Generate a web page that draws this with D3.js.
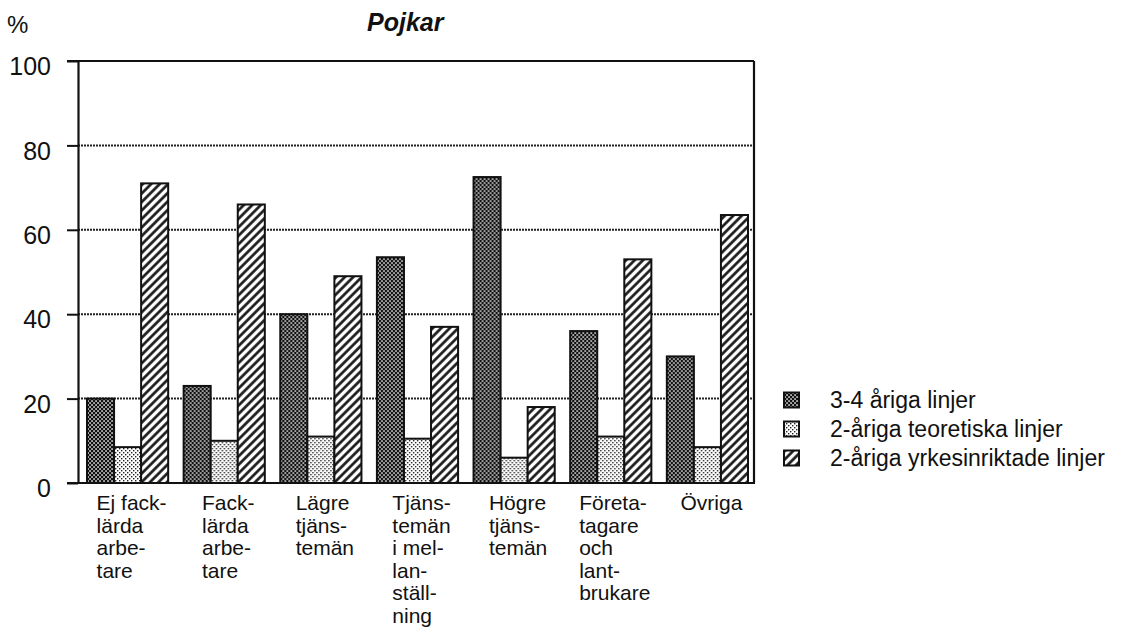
<!DOCTYPE html>
<html>
<head>
<meta charset="utf-8">
<script src="https://cdn.jsdelivr.net/npm/d3@7"></script>
<style>
  body { margin: 0; background: #fff; }
  svg { display: block; font-family: "Liberation Sans", Arial, sans-serif; }
</style>
</head>
<body>
<div id="chart"></div>
<script>
// categories (with the line breaks used in the original)
var categories = ["Ej facklärda arbetare", "Facklärda arbetare", "Lägre tjänstemän",
    "Tjänstemän i mellanställning", "Högre tjänstemän", "Företagare och lantbrukare", "Övriga"];
var labelLines = [
    ["Ej fack-", "lärda", "arbe-", "tare"],
    ["Fack-", "lärda", "arbe-", "tare"],
    ["Lägre", "tjäns-", "temän"],
    ["Tjäns-", "temän", "i mel-", "lan-", "ställ-", "ning"],
    ["Högre", "tjäns-", "temän"],
    ["Företa-", "tagare", "och", "lant-", "brukare"],
    ["Övriga"]
];
var seriesNames = ["3-4 åriga linjer", "2-åriga teoretiska linjer", "2-åriga yrkesinriktade linjer"];
var linjer34 = [20, 23, 40, 53.5, 72.5, 36, 30];
var teoretiska2 = [8.5, 10, 11, 10.5, 6, 11, 8.5];
var yrkes2 = [71, 66, 49, 37, 18, 53, 63.5];
var yTicks = [0, 20, 40, 60, 80, 100];

var w = 1125, h = 632;
var axisX = 78, frameRight = 754;

var svg = d3.select("#chart").append("svg").attr("width", w).attr("height", h);

// fill patterns
var defs = svg.append("defs");
var pDark = defs.append("pattern").attr("id", "pDark")
    .attr("patternUnits", "userSpaceOnUse").attr("width", 4).attr("height", 4);
pDark.append("rect").attr("width", 4).attr("height", 4).attr("fill", "#111");
pDark.append("rect").attr("x", 0.3).attr("y", 0.3).attr("width", 1.5).attr("height", 1.5).attr("fill", "#fff");
pDark.append("rect").attr("x", 2.3).attr("y", 2.3).attr("width", 1.5).attr("height", 1.5).attr("fill", "#fff");

var pLight = defs.append("pattern").attr("id", "pLight")
    .attr("patternUnits", "userSpaceOnUse").attr("width", 4).attr("height", 4);
pLight.append("rect").attr("width", 4).attr("height", 4).attr("fill", "#fff");
pLight.append("rect").attr("x", 0).attr("y", 0).attr("width", 1.4).attr("height", 1.4).attr("fill", "#222");
pLight.append("rect").attr("x", 2).attr("y", 2).attr("width", 1.4).attr("height", 1.4).attr("fill", "#222");

var pHatch = defs.append("pattern").attr("id", "pHatch")
    .attr("patternUnits", "userSpaceOnUse").attr("width", 6).attr("height", 6)
    .attr("patternTransform", "rotate(45)");
pHatch.append("rect").attr("width", 6).attr("height", 6).attr("fill", "#fff");
pHatch.append("line").attr("x1", 1.5).attr("y1", 0).attr("x2", 1.5).attr("y2", 6)
    .attr("stroke", "#111").attr("stroke-width", 2.6);

var fills = ["url(#pDark)", "url(#pLight)", "url(#pHatch)"];
var seriesValues = [linjer34, teoretiska2, yrkes2];

// scales
var y = d3.scaleLinear().domain([0, 100]).range([483, 61]);
var x = d3.scaleBand().domain(categories).range([87, 748]).paddingInner(0.16);
var xs = d3.scaleBand().domain(seriesNames).range([0, x.bandwidth()]);

// gridlines (dotted, scanned look)
svg.append("g").selectAll("line").data([20, 40, 60, 80]).join("line")
    .attr("x1", axisX).attr("x2", frameRight)
    .attr("y1", d => y(d)).attr("y2", d => y(d))
    .attr("stroke", "#222").attr("stroke-width", 2).attr("stroke-dasharray", "2,1");

// bars
var rows = categories.map((c, i) => ({ cat: c, vals: seriesValues.map(s => s[i]) }));
var groups = svg.append("g").selectAll("g").data(rows).join("g")
    .attr("transform", d => "translate(" + x(d.cat) + ",0)");
groups.selectAll("rect").data(d => d.vals.map((v, k) => ({ v: v, k: k }))).join("rect")
    .attr("x", d => xs(seriesNames[d.k]))
    .attr("width", xs.bandwidth())
    .attr("y", d => y(d.v))
    .attr("height", d => y(0) - y(d.v))
    .attr("fill", d => fills[d.k])
    .attr("stroke", "#111").attr("stroke-width", 2);

// frame
var frame = svg.append("g").attr("stroke", "#111").attr("stroke-width", 2.2).attr("fill", "none");
frame.append("line").attr("x1", axisX - 11).attr("x2", frameRight).attr("y1", y(100)).attr("y2", y(100));
frame.append("line").attr("x1", frameRight).attr("x2", frameRight).attr("y1", y(100)).attr("y2", y(0));
frame.append("line").attr("x1", axisX - 11).attr("x2", frameRight + 1).attr("y1", y(0)).attr("y2", y(0));

// y axis
var yAxis = svg.append("g").attr("transform", "translate(" + axisX + ",0)")
    .call(d3.axisLeft(y).tickValues(yTicks).tickSize(11).tickSizeOuter(0).tickPadding(16));
yAxis.select(".domain").attr("stroke", "#111").attr("stroke-width", 2.2);
yAxis.selectAll(".tick line").attr("stroke", "#111").attr("stroke-width", 2);
yAxis.selectAll(".tick text").attr("font-size", 25).attr("fill", "#111")
    .attr("font-family", "Liberation Sans, Arial, sans-serif").attr("dy", "0.55em");

svg.append("text").attr("x", 7).attr("y", 33).attr("font-size", 24).attr("fill", "#111").text("%");

svg.append("text").attr("x", 367).attr("y", 31).attr("font-size", 25)
    .attr("font-weight", "bold").attr("font-style", "italic").attr("fill", "#111").text("Pojkar");

// category labels, left aligned block centred under each group
var labs = svg.append("g").selectAll("text").data(rows).join("text")
    .attr("font-size", 21).attr("fill", "#111");
labs.each(function (d, i) {
    var t = d3.select(this);
    labelLines[i].forEach((ln, j) => {
        t.append("tspan").attr("y", 510 + j * 22.6).text(ln);
    });
    var maxW = d3.max(t.selectAll("tspan").nodes(), n => n.getComputedTextLength());
    t.selectAll("tspan").attr("x", x(d.cat) + x.bandwidth() / 2 - maxW / 2 + 4);
});

// legend
var legend = svg.append("g").selectAll("g").data(seriesNames).join("g")
    .attr("transform", (d, i) => "translate(784," + (400 + i * 29) + ")");
legend.append("rect").attr("x", 0).attr("y", -7.5).attr("width", 15).attr("height", 15)
    .attr("fill", (d, i) => fills[i]).attr("stroke", "#111").attr("stroke-width", 2);
legend.append("text").attr("x", 46).attr("y", 8).attr("font-size", 23).attr("fill", "#111")
    .text(d => d);
</script>
</body>
</html>
